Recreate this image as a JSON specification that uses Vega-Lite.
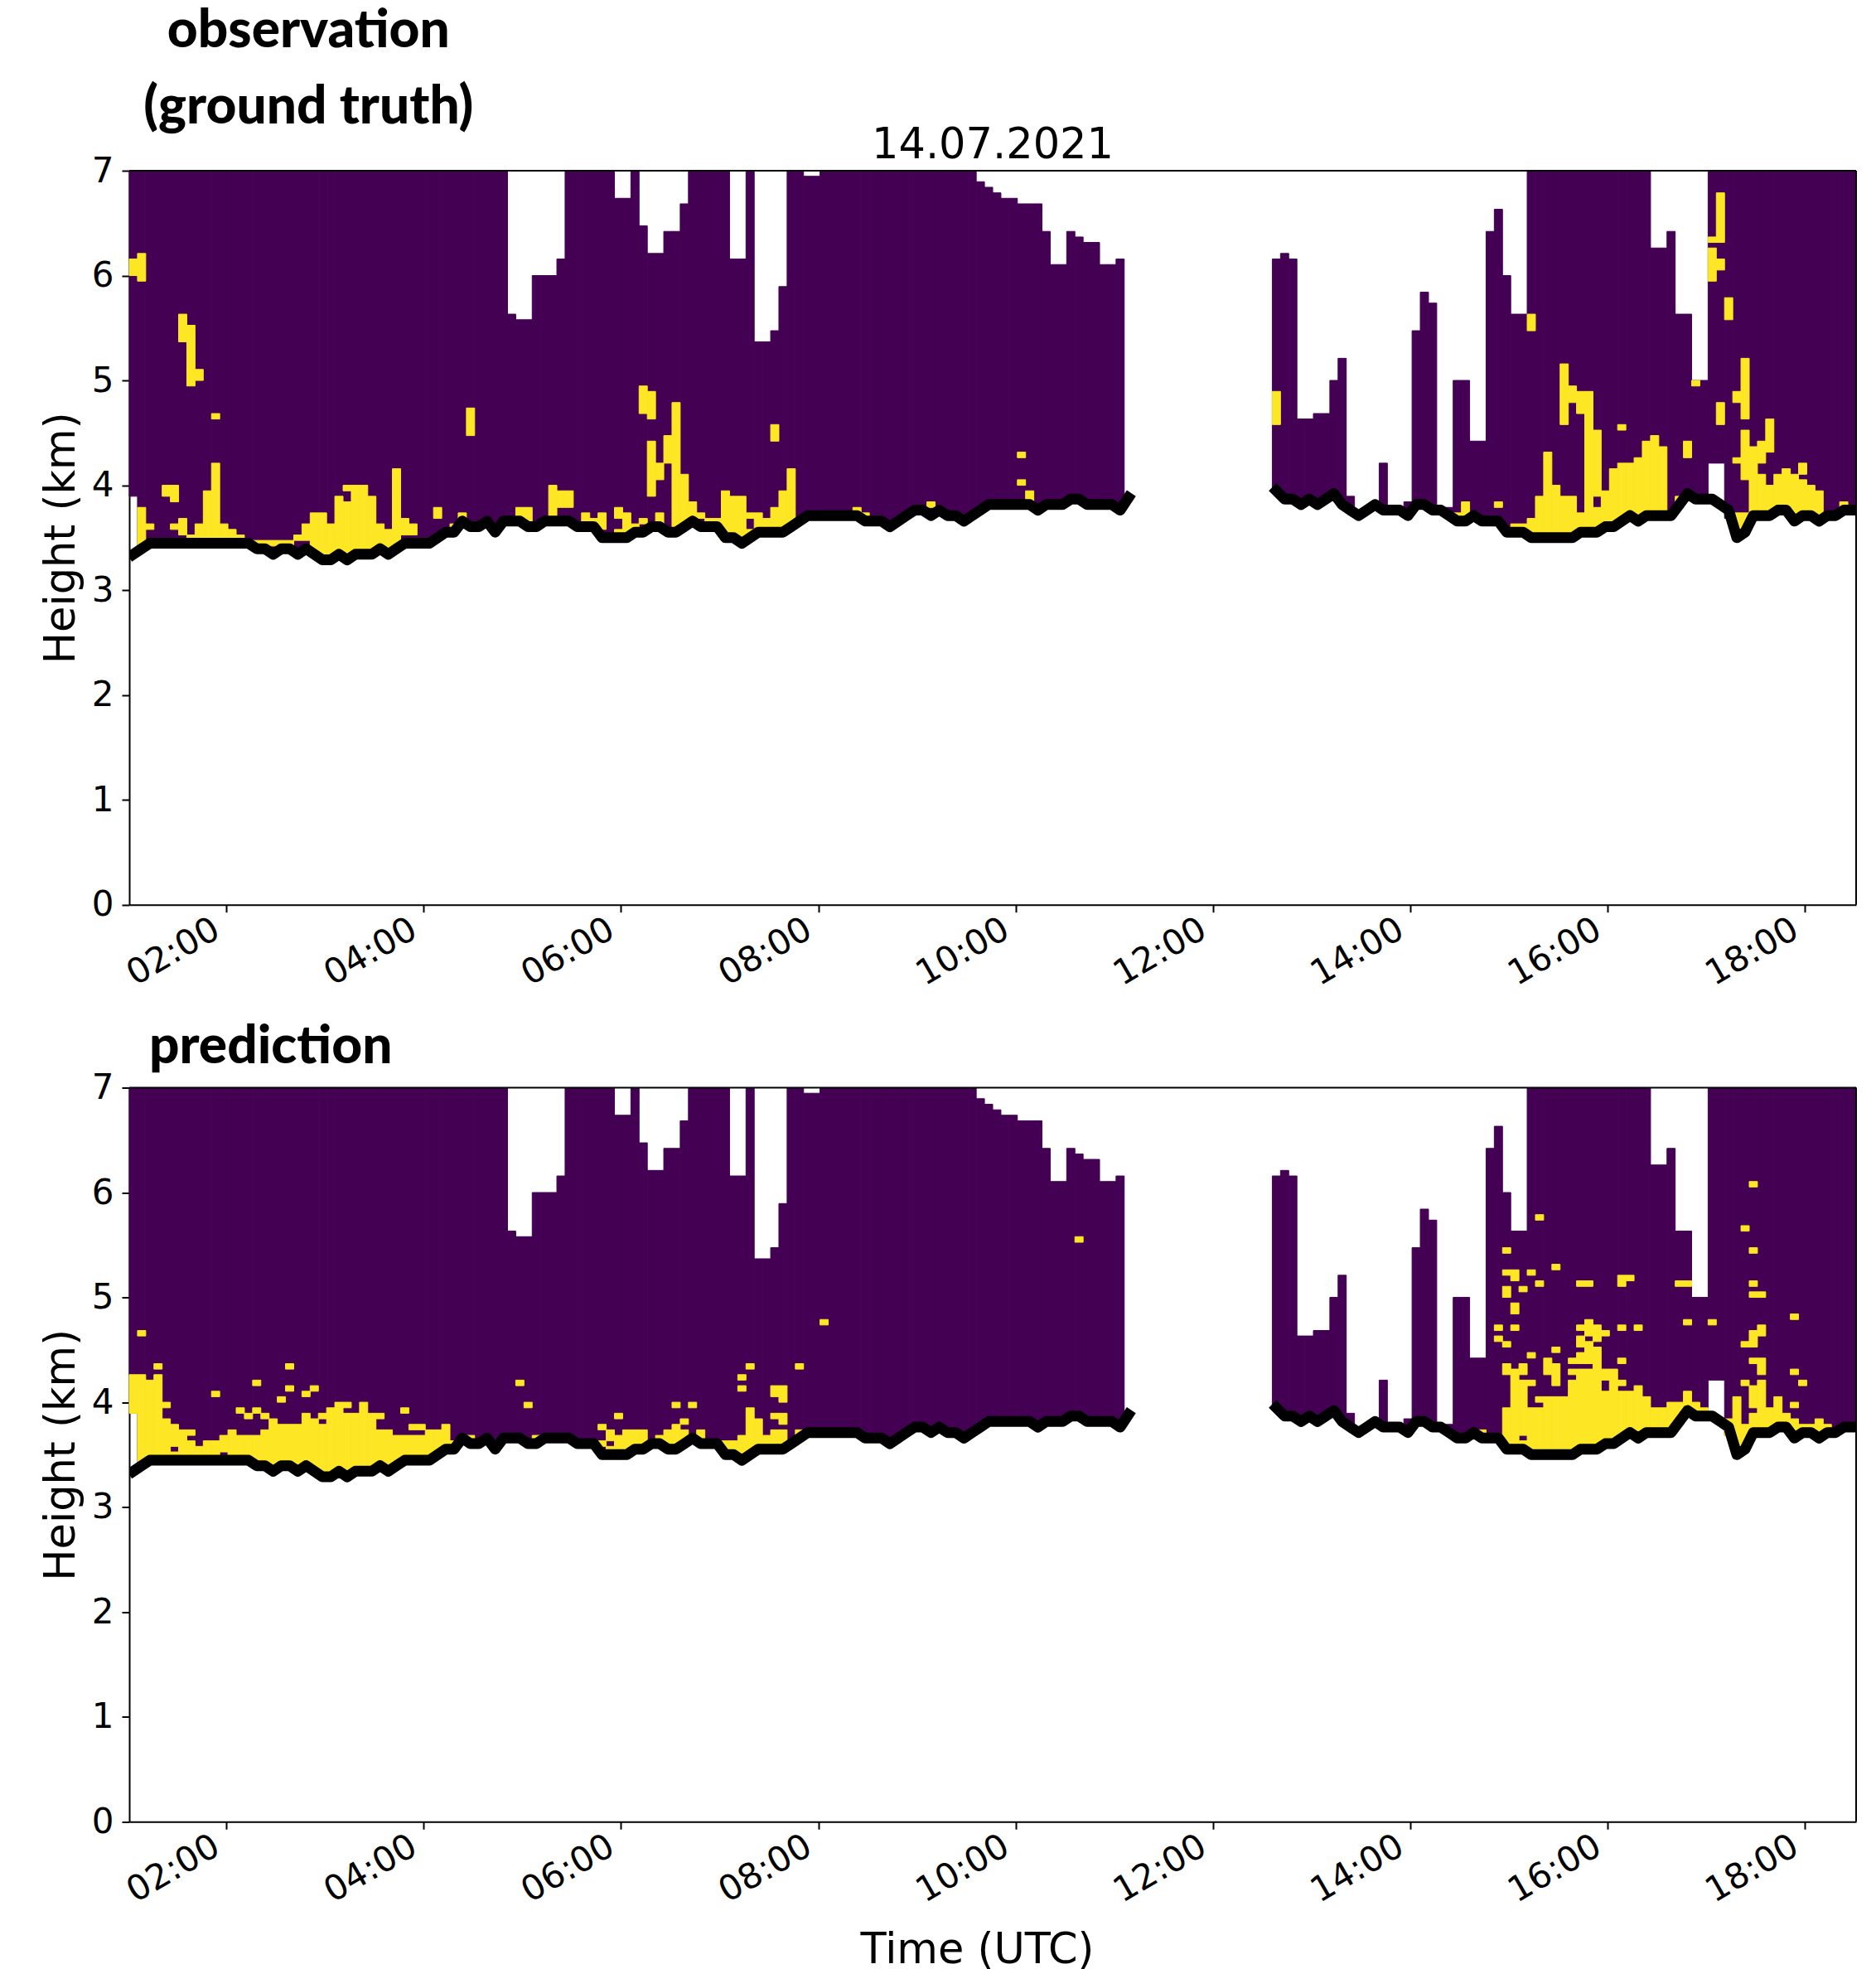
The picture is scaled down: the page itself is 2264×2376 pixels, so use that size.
{
"$schema":"https://vega.github.io/schema/vega-lite/v6.json",
"background":"white",
"padding":{"left":48,"top":5,"right":0,"bottom":0},
"config":{"view":{"stroke":null},"font":"DejaVu Sans",
"axis":{"domainColor":"black","domainWidth":2,"tickColor":"black","tickWidth":2,"tickSize":9,"labelColor":"black","titleColor":"black","labelFont":"DejaVu Sans","titleFont":"DejaVu Sans","labelFontSize":42,"titleFontSize":51,"titleFontWeight":"normal","grid":false,"zindex":1}},
"datasets":{
"cols":[
{"t":"2021-07-14T01:01Z","t2":"2021-07-14T01:06Z","h":3.895,"h2":7},{"t":"2021-07-14T01:06Z","t2":"2021-07-14T01:11Z","h":3.421,"h2":7},{"t":"2021-07-14T01:11Z","t2":"2021-07-14T01:16Z","h":3.474,"h2":7},{"t":"2021-07-14T01:16Z","t2":"2021-07-14T01:21Z","h":3.474,"h2":7},{"t":"2021-07-14T01:21Z","t2":"2021-07-14T01:26Z","h":3.474,"h2":7},{"t":"2021-07-14T01:26Z","t2":"2021-07-14T01:31Z","h":3.474,"h2":7},{"t":"2021-07-14T01:31Z","t2":"2021-07-14T01:36Z","h":3.474,"h2":7},{"t":"2021-07-14T01:36Z","t2":"2021-07-14T01:41Z","h":3.474,"h2":7},{"t":"2021-07-14T01:41Z","t2":"2021-07-14T01:46Z","h":3.474,"h2":7},{"t":"2021-07-14T01:46Z","t2":"2021-07-14T01:51Z","h":3.474,"h2":7},{"t":"2021-07-14T01:51Z","t2":"2021-07-14T01:56Z","h":3.474,"h2":7},{"t":"2021-07-14T01:56Z","t2":"2021-07-14T02:01Z","h":3.474,"h2":7},
{"t":"2021-07-14T02:01Z","t2":"2021-07-14T02:06Z","h":3.474,"h2":7},{"t":"2021-07-14T02:06Z","t2":"2021-07-14T02:11Z","h":3.474,"h2":7},{"t":"2021-07-14T02:11Z","t2":"2021-07-14T02:16Z","h":3.474,"h2":7},{"t":"2021-07-14T02:16Z","t2":"2021-07-14T02:21Z","h":3.421,"h2":7},{"t":"2021-07-14T02:21Z","t2":"2021-07-14T02:26Z","h":3.421,"h2":7},{"t":"2021-07-14T02:26Z","t2":"2021-07-14T02:31Z","h":3.368,"h2":7},{"t":"2021-07-14T02:31Z","t2":"2021-07-14T02:36Z","h":3.421,"h2":7},{"t":"2021-07-14T02:36Z","t2":"2021-07-14T02:41Z","h":3.421,"h2":7},{"t":"2021-07-14T02:41Z","t2":"2021-07-14T02:46Z","h":3.368,"h2":7},{"t":"2021-07-14T02:46Z","t2":"2021-07-14T02:51Z","h":3.421,"h2":7},{"t":"2021-07-14T02:51Z","t2":"2021-07-14T02:56Z","h":3.368,"h2":7},{"t":"2021-07-14T02:56Z","t2":"2021-07-14T03:01Z","h":3.316,"h2":7},
{"t":"2021-07-14T03:01Z","t2":"2021-07-14T03:06Z","h":3.316,"h2":7},{"t":"2021-07-14T03:06Z","t2":"2021-07-14T03:11Z","h":3.368,"h2":7},{"t":"2021-07-14T03:11Z","t2":"2021-07-14T03:16Z","h":3.316,"h2":7},{"t":"2021-07-14T03:16Z","t2":"2021-07-14T03:21Z","h":3.368,"h2":7},{"t":"2021-07-14T03:21Z","t2":"2021-07-14T03:26Z","h":3.368,"h2":7},{"t":"2021-07-14T03:26Z","t2":"2021-07-14T03:31Z","h":3.368,"h2":7},{"t":"2021-07-14T03:31Z","t2":"2021-07-14T03:36Z","h":3.421,"h2":7},{"t":"2021-07-14T03:36Z","t2":"2021-07-14T03:41Z","h":3.368,"h2":7},{"t":"2021-07-14T03:41Z","t2":"2021-07-14T03:46Z","h":3.421,"h2":7},{"t":"2021-07-14T03:46Z","t2":"2021-07-14T03:51Z","h":3.474,"h2":7},{"t":"2021-07-14T03:51Z","t2":"2021-07-14T03:56Z","h":3.474,"h2":7},{"t":"2021-07-14T03:56Z","t2":"2021-07-14T04:01Z","h":3.474,"h2":7},
{"t":"2021-07-14T04:01Z","t2":"2021-07-14T04:06Z","h":3.474,"h2":7},{"t":"2021-07-14T04:06Z","t2":"2021-07-14T04:11Z","h":3.526,"h2":7},{"t":"2021-07-14T04:11Z","t2":"2021-07-14T04:16Z","h":3.579,"h2":7},{"t":"2021-07-14T04:16Z","t2":"2021-07-14T04:21Z","h":3.579,"h2":7},{"t":"2021-07-14T04:21Z","t2":"2021-07-14T04:26Z","h":3.632,"h2":7},{"t":"2021-07-14T04:26Z","t2":"2021-07-14T04:31Z","h":3.632,"h2":7},{"t":"2021-07-14T04:31Z","t2":"2021-07-14T04:36Z","h":3.632,"h2":7},{"t":"2021-07-14T04:36Z","t2":"2021-07-14T04:41Z","h":3.632,"h2":7},{"t":"2021-07-14T04:41Z","t2":"2021-07-14T04:46Z","h":3.579,"h2":7},{"t":"2021-07-14T04:46Z","t2":"2021-07-14T04:51Z","h":3.632,"h2":7},{"t":"2021-07-14T04:51Z","t2":"2021-07-14T04:56Z","h":3.684,"h2":5.632},{"t":"2021-07-14T04:56Z","t2":"2021-07-14T05:01Z","h":3.684,"h2":5.579},
{"t":"2021-07-14T05:01Z","t2":"2021-07-14T05:06Z","h":3.632,"h2":5.579},{"t":"2021-07-14T05:06Z","t2":"2021-07-14T05:11Z","h":3.632,"h2":6},{"t":"2021-07-14T05:11Z","t2":"2021-07-14T05:16Z","h":3.684,"h2":6},{"t":"2021-07-14T05:16Z","t2":"2021-07-14T05:21Z","h":3.684,"h2":6},{"t":"2021-07-14T05:21Z","t2":"2021-07-14T05:26Z","h":3.684,"h2":6.158},{"t":"2021-07-14T05:26Z","t2":"2021-07-14T05:31Z","h":3.684,"h2":7},{"t":"2021-07-14T05:31Z","t2":"2021-07-14T05:36Z","h":3.632,"h2":7},{"t":"2021-07-14T05:36Z","t2":"2021-07-14T05:41Z","h":3.632,"h2":7},{"t":"2021-07-14T05:41Z","t2":"2021-07-14T05:46Z","h":3.579,"h2":7},{"t":"2021-07-14T05:46Z","t2":"2021-07-14T05:51Z","h":3.526,"h2":7},{"t":"2021-07-14T05:51Z","t2":"2021-07-14T05:56Z","h":3.526,"h2":7},{"t":"2021-07-14T05:56Z","t2":"2021-07-14T06:01Z","h":3.526,"h2":6.737},
{"t":"2021-07-14T06:01Z","t2":"2021-07-14T06:06Z","h":3.526,"h2":6.737},{"t":"2021-07-14T06:06Z","t2":"2021-07-14T06:11Z","h":3.579,"h2":7},{"t":"2021-07-14T06:11Z","t2":"2021-07-14T06:16Z","h":3.579,"h2":6.474},{"t":"2021-07-14T06:16Z","t2":"2021-07-14T06:21Z","h":3.632,"h2":6.211},{"t":"2021-07-14T06:21Z","t2":"2021-07-14T06:26Z","h":3.632,"h2":6.211},{"t":"2021-07-14T06:26Z","t2":"2021-07-14T06:31Z","h":3.579,"h2":6.421},{"t":"2021-07-14T06:31Z","t2":"2021-07-14T06:36Z","h":3.579,"h2":6.421},{"t":"2021-07-14T06:36Z","t2":"2021-07-14T06:41Z","h":3.632,"h2":6.684},{"t":"2021-07-14T06:41Z","t2":"2021-07-14T06:46Z","h":3.684,"h2":7},{"t":"2021-07-14T06:46Z","t2":"2021-07-14T06:51Z","h":3.632,"h2":7},{"t":"2021-07-14T06:51Z","t2":"2021-07-14T06:56Z","h":3.632,"h2":7},{"t":"2021-07-14T06:56Z","t2":"2021-07-14T07:01Z","h":3.579,"h2":7},
{"t":"2021-07-14T07:01Z","t2":"2021-07-14T07:06Z","h":3.526,"h2":7},{"t":"2021-07-14T07:06Z","t2":"2021-07-14T07:11Z","h":3.526,"h2":6.158},{"t":"2021-07-14T07:11Z","t2":"2021-07-14T07:16Z","h":3.474,"h2":6.158},{"t":"2021-07-14T07:16Z","t2":"2021-07-14T07:21Z","h":3.526,"h2":7},{"t":"2021-07-14T07:21Z","t2":"2021-07-14T07:26Z","h":3.579,"h2":5.368},{"t":"2021-07-14T07:26Z","t2":"2021-07-14T07:31Z","h":3.579,"h2":5.368},{"t":"2021-07-14T07:31Z","t2":"2021-07-14T07:36Z","h":3.579,"h2":5.474},{"t":"2021-07-14T07:36Z","t2":"2021-07-14T07:41Z","h":3.579,"h2":5.895},{"t":"2021-07-14T07:41Z","t2":"2021-07-14T07:46Z","h":3.632,"h2":7},{"t":"2021-07-14T07:46Z","t2":"2021-07-14T07:51Z","h":3.684,"h2":7},{"t":"2021-07-14T07:51Z","t2":"2021-07-14T07:56Z","h":3.737,"h2":6.947},{"t":"2021-07-14T07:56Z","t2":"2021-07-14T08:01Z","h":3.737,"h2":6.947},
{"t":"2021-07-14T08:01Z","t2":"2021-07-14T08:06Z","h":3.737,"h2":7},{"t":"2021-07-14T08:06Z","t2":"2021-07-14T08:11Z","h":3.737,"h2":7},{"t":"2021-07-14T08:11Z","t2":"2021-07-14T08:16Z","h":3.737,"h2":7},{"t":"2021-07-14T08:16Z","t2":"2021-07-14T08:21Z","h":3.737,"h2":7},{"t":"2021-07-14T08:21Z","t2":"2021-07-14T08:26Z","h":3.737,"h2":7},{"t":"2021-07-14T08:26Z","t2":"2021-07-14T08:31Z","h":3.684,"h2":7},{"t":"2021-07-14T08:31Z","t2":"2021-07-14T08:36Z","h":3.684,"h2":7},{"t":"2021-07-14T08:36Z","t2":"2021-07-14T08:41Z","h":3.684,"h2":7},{"t":"2021-07-14T08:41Z","t2":"2021-07-14T08:46Z","h":3.632,"h2":7},{"t":"2021-07-14T08:46Z","t2":"2021-07-14T08:51Z","h":3.684,"h2":7},{"t":"2021-07-14T08:51Z","t2":"2021-07-14T08:56Z","h":3.737,"h2":7},{"t":"2021-07-14T08:56Z","t2":"2021-07-14T09:01Z","h":3.789,"h2":7},
{"t":"2021-07-14T09:01Z","t2":"2021-07-14T09:06Z","h":3.789,"h2":7},{"t":"2021-07-14T09:06Z","t2":"2021-07-14T09:11Z","h":3.737,"h2":7},{"t":"2021-07-14T09:11Z","t2":"2021-07-14T09:16Z","h":3.789,"h2":7},{"t":"2021-07-14T09:16Z","t2":"2021-07-14T09:21Z","h":3.737,"h2":7},{"t":"2021-07-14T09:21Z","t2":"2021-07-14T09:26Z","h":3.737,"h2":7},{"t":"2021-07-14T09:26Z","t2":"2021-07-14T09:31Z","h":3.684,"h2":7},{"t":"2021-07-14T09:31Z","t2":"2021-07-14T09:36Z","h":3.737,"h2":7},{"t":"2021-07-14T09:36Z","t2":"2021-07-14T09:41Z","h":3.789,"h2":6.895},{"t":"2021-07-14T09:41Z","t2":"2021-07-14T09:46Z","h":3.842,"h2":6.842},{"t":"2021-07-14T09:46Z","t2":"2021-07-14T09:51Z","h":3.842,"h2":6.789},{"t":"2021-07-14T09:51Z","t2":"2021-07-14T09:56Z","h":3.842,"h2":6.737},{"t":"2021-07-14T09:56Z","t2":"2021-07-14T10:01Z","h":3.842,"h2":6.737},
{"t":"2021-07-14T10:01Z","t2":"2021-07-14T10:06Z","h":3.842,"h2":6.684},{"t":"2021-07-14T10:06Z","t2":"2021-07-14T10:11Z","h":3.842,"h2":6.684},{"t":"2021-07-14T10:11Z","t2":"2021-07-14T10:16Z","h":3.789,"h2":6.684},{"t":"2021-07-14T10:16Z","t2":"2021-07-14T10:21Z","h":3.842,"h2":6.421},{"t":"2021-07-14T10:21Z","t2":"2021-07-14T10:26Z","h":3.842,"h2":6.105},{"t":"2021-07-14T10:26Z","t2":"2021-07-14T10:31Z","h":3.842,"h2":6.105},{"t":"2021-07-14T10:31Z","t2":"2021-07-14T10:36Z","h":3.895,"h2":6.421},{"t":"2021-07-14T10:36Z","t2":"2021-07-14T10:41Z","h":3.895,"h2":6.368},{"t":"2021-07-14T10:41Z","t2":"2021-07-14T10:46Z","h":3.842,"h2":6.316},{"t":"2021-07-14T10:46Z","t2":"2021-07-14T10:51Z","h":3.842,"h2":6.316},{"t":"2021-07-14T10:51Z","t2":"2021-07-14T10:56Z","h":3.842,"h2":6.105},{"t":"2021-07-14T10:56Z","t2":"2021-07-14T11:01Z","h":3.842,"h2":6.105},
{"t":"2021-07-14T11:01Z","t2":"2021-07-14T11:06Z","h":3.789,"h2":6.158},
{"t":"2021-07-14T12:36Z","t2":"2021-07-14T12:41Z","h":3.947,"h2":6.158},{"t":"2021-07-14T12:41Z","t2":"2021-07-14T12:46Z","h":3.895,"h2":6.211},{"t":"2021-07-14T12:46Z","t2":"2021-07-14T12:51Z","h":3.895,"h2":6.158},{"t":"2021-07-14T12:51Z","t2":"2021-07-14T12:56Z","h":3.842,"h2":4.632},{"t":"2021-07-14T12:56Z","t2":"2021-07-14T13:01Z","h":3.895,"h2":4.632},
{"t":"2021-07-14T13:01Z","t2":"2021-07-14T13:06Z","h":3.842,"h2":4.684},{"t":"2021-07-14T13:06Z","t2":"2021-07-14T13:11Z","h":3.895,"h2":4.684},{"t":"2021-07-14T13:11Z","t2":"2021-07-14T13:16Z","h":3.895,"h2":5},{"t":"2021-07-14T13:16Z","t2":"2021-07-14T13:21Z","h":3.842,"h2":5.211},{"t":"2021-07-14T13:21Z","t2":"2021-07-14T13:26Z","h":3.789,"h2":3.895},{"t":"2021-07-14T13:41Z","t2":"2021-07-14T13:46Z","h":3.789,"h2":4.211},{"t":"2021-07-14T13:56Z","t2":"2021-07-14T14:01Z","h":3.737,"h2":3.842},
{"t":"2021-07-14T14:01Z","t2":"2021-07-14T14:06Z","h":3.789,"h2":5.474},{"t":"2021-07-14T14:06Z","t2":"2021-07-14T14:11Z","h":3.842,"h2":5.842},{"t":"2021-07-14T14:11Z","t2":"2021-07-14T14:16Z","h":3.789,"h2":5.737},{"t":"2021-07-14T14:21Z","t2":"2021-07-14T14:26Z","h":3.737,"h2":3.789},{"t":"2021-07-14T14:26Z","t2":"2021-07-14T14:31Z","h":3.684,"h2":5},{"t":"2021-07-14T14:31Z","t2":"2021-07-14T14:36Z","h":3.684,"h2":5},{"t":"2021-07-14T14:36Z","t2":"2021-07-14T14:41Z","h":3.737,"h2":4.421},{"t":"2021-07-14T14:41Z","t2":"2021-07-14T14:46Z","h":3.684,"h2":4.421},{"t":"2021-07-14T14:46Z","t2":"2021-07-14T14:51Z","h":3.684,"h2":6.421},{"t":"2021-07-14T14:51Z","t2":"2021-07-14T14:56Z","h":3.632,"h2":6.632},{"t":"2021-07-14T14:56Z","t2":"2021-07-14T15:01Z","h":3.579,"h2":6},
{"t":"2021-07-14T15:01Z","t2":"2021-07-14T15:06Z","h":3.579,"h2":5.632},{"t":"2021-07-14T15:06Z","t2":"2021-07-14T15:11Z","h":3.579,"h2":5.632},{"t":"2021-07-14T15:11Z","t2":"2021-07-14T15:16Z","h":3.526,"h2":7},{"t":"2021-07-14T15:16Z","t2":"2021-07-14T15:21Z","h":3.526,"h2":7},{"t":"2021-07-14T15:21Z","t2":"2021-07-14T15:26Z","h":3.526,"h2":7},{"t":"2021-07-14T15:26Z","t2":"2021-07-14T15:31Z","h":3.526,"h2":7},{"t":"2021-07-14T15:31Z","t2":"2021-07-14T15:36Z","h":3.526,"h2":7},{"t":"2021-07-14T15:36Z","t2":"2021-07-14T15:41Z","h":3.526,"h2":7},{"t":"2021-07-14T15:41Z","t2":"2021-07-14T15:46Z","h":3.579,"h2":7},{"t":"2021-07-14T15:46Z","t2":"2021-07-14T15:51Z","h":3.579,"h2":7},{"t":"2021-07-14T15:51Z","t2":"2021-07-14T15:56Z","h":3.579,"h2":7},{"t":"2021-07-14T15:56Z","t2":"2021-07-14T16:01Z","h":3.632,"h2":7},
{"t":"2021-07-14T16:01Z","t2":"2021-07-14T16:06Z","h":3.632,"h2":7},{"t":"2021-07-14T16:06Z","t2":"2021-07-14T16:11Z","h":3.684,"h2":7},{"t":"2021-07-14T16:11Z","t2":"2021-07-14T16:16Z","h":3.737,"h2":7},{"t":"2021-07-14T16:16Z","t2":"2021-07-14T16:21Z","h":3.684,"h2":7},{"t":"2021-07-14T16:21Z","t2":"2021-07-14T16:26Z","h":3.737,"h2":7},{"t":"2021-07-14T16:26Z","t2":"2021-07-14T16:31Z","h":3.737,"h2":6.263},{"t":"2021-07-14T16:31Z","t2":"2021-07-14T16:36Z","h":3.737,"h2":6.263},{"t":"2021-07-14T16:36Z","t2":"2021-07-14T16:41Z","h":3.737,"h2":6.421},{"t":"2021-07-14T16:41Z","t2":"2021-07-14T16:46Z","h":3.789,"h2":5.632},{"t":"2021-07-14T16:46Z","t2":"2021-07-14T16:51Z","h":3.895,"h2":5.632},{"t":"2021-07-14T16:51Z","t2":"2021-07-14T16:56Z","h":3.895,"h2":5},{"t":"2021-07-14T16:56Z","t2":"2021-07-14T17:01Z","h":3.895,"h2":5},
{"t":"2021-07-14T17:01Z","t2":"2021-07-14T17:06Z","h":4.211,"h2":7},{"t":"2021-07-14T17:06Z","t2":"2021-07-14T17:11Z","h":4.211,"h2":7},{"t":"2021-07-14T17:11Z","t2":"2021-07-14T17:16Z","h":3.684,"h2":7},{"t":"2021-07-14T17:16Z","t2":"2021-07-14T17:21Z","h":3.526,"h2":7},{"t":"2021-07-14T17:21Z","t2":"2021-07-14T17:26Z","h":3.579,"h2":7},{"t":"2021-07-14T17:26Z","t2":"2021-07-14T17:31Z","h":3.684,"h2":7},{"t":"2021-07-14T17:31Z","t2":"2021-07-14T17:36Z","h":3.737,"h2":7},{"t":"2021-07-14T17:36Z","t2":"2021-07-14T17:41Z","h":3.737,"h2":7},{"t":"2021-07-14T17:41Z","t2":"2021-07-14T17:46Z","h":3.789,"h2":7},{"t":"2021-07-14T17:46Z","t2":"2021-07-14T17:51Z","h":3.789,"h2":7},{"t":"2021-07-14T17:51Z","t2":"2021-07-14T17:56Z","h":3.684,"h2":7},{"t":"2021-07-14T17:56Z","t2":"2021-07-14T18:01Z","h":3.737,"h2":7},
{"t":"2021-07-14T18:01Z","t2":"2021-07-14T18:06Z","h":3.737,"h2":7},{"t":"2021-07-14T18:06Z","t2":"2021-07-14T18:11Z","h":3.684,"h2":7},{"t":"2021-07-14T18:11Z","t2":"2021-07-14T18:16Z","h":3.737,"h2":7},{"t":"2021-07-14T18:16Z","t2":"2021-07-14T18:21Z","h":3.737,"h2":7},{"t":"2021-07-14T18:21Z","t2":"2021-07-14T18:26Z","h":3.789,"h2":7},{"t":"2021-07-14T18:26Z","t2":"2021-07-14T18:31Z","h":3.789,"h2":7}
],
"obs":[
{"t":"2021-07-14T01:01Z","t2":"2021-07-14T01:06Z","h":6,"h2":6.158},{"t":"2021-07-14T01:06Z","t2":"2021-07-14T01:11Z","h":5.947,"h2":6.211},{"t":"2021-07-14T01:06Z","t2":"2021-07-14T01:11Z","h":3.421,"h2":3.789},{"t":"2021-07-14T01:11Z","t2":"2021-07-14T01:16Z","h":3.579,"h2":3.632},{"t":"2021-07-14T01:21Z","t2":"2021-07-14T01:26Z","h":3.895,"h2":4},{"t":"2021-07-14T01:26Z","t2":"2021-07-14T01:31Z","h":3.842,"h2":4},{"t":"2021-07-14T01:26Z","t2":"2021-07-14T01:31Z","h":3.579,"h2":3.632},{"t":"2021-07-14T01:31Z","t2":"2021-07-14T01:36Z","h":5.368,"h2":5.632},{"t":"2021-07-14T01:31Z","t2":"2021-07-14T01:36Z","h":3.526,"h2":3.684},{"t":"2021-07-14T01:36Z","t2":"2021-07-14T01:41Z","h":4.947,"h2":5.526},{"t":"2021-07-14T01:36Z","t2":"2021-07-14T01:41Z","h":3.474,"h2":3.526},{"t":"2021-07-14T01:41Z","t2":"2021-07-14T01:46Z","h":5,"h2":5.105},{"t":"2021-07-14T01:41Z","t2":"2021-07-14T01:46Z","h":3.474,"h2":3.632},{"t":"2021-07-14T01:46Z","t2":"2021-07-14T01:51Z","h":3.474,"h2":3.947},{"t":"2021-07-14T01:51Z","t2":"2021-07-14T01:56Z","h":4.632,"h2":4.684},{"t":"2021-07-14T01:51Z","t2":"2021-07-14T01:56Z","h":3.474,"h2":4.211},{"t":"2021-07-14T01:56Z","t2":"2021-07-14T02:01Z","h":3.474,"h2":3.632},{"t":"2021-07-14T02:01Z","t2":"2021-07-14T02:06Z","h":3.474,"h2":3.579},{"t":"2021-07-14T02:06Z","t2":"2021-07-14T02:11Z","h":3.474,"h2":3.526},
{"t":"2021-07-14T02:16Z","t2":"2021-07-14T02:21Z","h":3.421,"h2":3.474},{"t":"2021-07-14T02:21Z","t2":"2021-07-14T02:26Z","h":3.421,"h2":3.474},{"t":"2021-07-14T02:26Z","t2":"2021-07-14T02:31Z","h":3.421,"h2":3.474},{"t":"2021-07-14T02:31Z","t2":"2021-07-14T02:36Z","h":3.421,"h2":3.474},{"t":"2021-07-14T02:36Z","t2":"2021-07-14T02:41Z","h":3.421,"h2":3.474},{"t":"2021-07-14T02:41Z","t2":"2021-07-14T02:46Z","h":3.474,"h2":3.526},{"t":"2021-07-14T02:46Z","t2":"2021-07-14T02:51Z","h":3.474,"h2":3.632},{"t":"2021-07-14T02:51Z","t2":"2021-07-14T02:56Z","h":3.368,"h2":3.737},{"t":"2021-07-14T02:56Z","t2":"2021-07-14T03:01Z","h":3.316,"h2":3.737},{"t":"2021-07-14T03:01Z","t2":"2021-07-14T03:06Z","h":3.316,"h2":3.632},{"t":"2021-07-14T03:06Z","t2":"2021-07-14T03:11Z","h":3.368,"h2":3.895},{"t":"2021-07-14T03:11Z","t2":"2021-07-14T03:16Z","h":3.316,"h2":3.842},{"t":"2021-07-14T03:11Z","t2":"2021-07-14T03:16Z","h":3.947,"h2":4},{"t":"2021-07-14T03:16Z","t2":"2021-07-14T03:21Z","h":3.368,"h2":4},{"t":"2021-07-14T03:21Z","t2":"2021-07-14T03:26Z","h":3.368,"h2":4},{"t":"2021-07-14T03:26Z","t2":"2021-07-14T03:31Z","h":3.368,"h2":3.895},{"t":"2021-07-14T03:31Z","t2":"2021-07-14T03:36Z","h":3.421,"h2":3.632},{"t":"2021-07-14T03:36Z","t2":"2021-07-14T03:41Z","h":3.368,"h2":3.579},{"t":"2021-07-14T03:41Z","t2":"2021-07-14T03:46Z","h":3.421,"h2":4.158},{"t":"2021-07-14T03:46Z","t2":"2021-07-14T03:51Z","h":3.526,"h2":3.684},{"t":"2021-07-14T03:51Z","t2":"2021-07-14T03:56Z","h":3.526,"h2":3.632},
{"t":"2021-07-14T04:06Z","t2":"2021-07-14T04:11Z","h":3.684,"h2":3.789},{"t":"2021-07-14T04:16Z","t2":"2021-07-14T04:21Z","h":3.579,"h2":3.632},{"t":"2021-07-14T04:21Z","t2":"2021-07-14T04:26Z","h":3.632,"h2":3.737},{"t":"2021-07-14T04:26Z","t2":"2021-07-14T04:31Z","h":4.474,"h2":4.737},{"t":"2021-07-14T04:56Z","t2":"2021-07-14T05:01Z","h":3.632,"h2":3.789},{"t":"2021-07-14T05:01Z","t2":"2021-07-14T05:06Z","h":3.632,"h2":3.789},{"t":"2021-07-14T05:16Z","t2":"2021-07-14T05:21Z","h":3.684,"h2":4},{"t":"2021-07-14T05:21Z","t2":"2021-07-14T05:26Z","h":3.789,"h2":3.947},{"t":"2021-07-14T05:26Z","t2":"2021-07-14T05:31Z","h":3.789,"h2":3.947},{"t":"2021-07-14T05:36Z","t2":"2021-07-14T05:41Z","h":3.632,"h2":3.737},{"t":"2021-07-14T05:41Z","t2":"2021-07-14T05:46Z","h":3.632,"h2":3.684},{"t":"2021-07-14T05:46Z","t2":"2021-07-14T05:51Z","h":3.579,"h2":3.737},{"t":"2021-07-14T05:56Z","t2":"2021-07-14T06:01Z","h":3.684,"h2":3.789},{"t":"2021-07-14T05:56Z","t2":"2021-07-14T06:01Z","h":3.526,"h2":3.579},
{"t":"2021-07-14T06:01Z","t2":"2021-07-14T06:06Z","h":3.526,"h2":3.737},{"t":"2021-07-14T06:06Z","t2":"2021-07-14T06:11Z","h":3.579,"h2":3.632},{"t":"2021-07-14T06:11Z","t2":"2021-07-14T06:16Z","h":3.632,"h2":3.684},{"t":"2021-07-14T06:11Z","t2":"2021-07-14T06:16Z","h":4.684,"h2":4.947},{"t":"2021-07-14T06:16Z","t2":"2021-07-14T06:21Z","h":3.895,"h2":4.421},{"t":"2021-07-14T06:16Z","t2":"2021-07-14T06:21Z","h":4.632,"h2":4.895},{"t":"2021-07-14T06:21Z","t2":"2021-07-14T06:26Z","h":3.632,"h2":3.737},{"t":"2021-07-14T06:21Z","t2":"2021-07-14T06:26Z","h":4.053,"h2":4.211},{"t":"2021-07-14T06:26Z","t2":"2021-07-14T06:31Z","h":4.211,"h2":4.474},{"t":"2021-07-14T06:31Z","t2":"2021-07-14T06:36Z","h":3.579,"h2":4.789},{"t":"2021-07-14T06:36Z","t2":"2021-07-14T06:41Z","h":3.632,"h2":4.105},{"t":"2021-07-14T06:41Z","t2":"2021-07-14T06:46Z","h":3.684,"h2":3.842},{"t":"2021-07-14T06:46Z","t2":"2021-07-14T06:51Z","h":3.684,"h2":3.737},{"t":"2021-07-14T06:51Z","t2":"2021-07-14T06:56Z","h":3.632,"h2":3.684},{"t":"2021-07-14T06:56Z","t2":"2021-07-14T07:01Z","h":3.632,"h2":3.684},
{"t":"2021-07-14T07:01Z","t2":"2021-07-14T07:06Z","h":3.526,"h2":3.947},{"t":"2021-07-14T07:06Z","t2":"2021-07-14T07:11Z","h":3.526,"h2":3.895},{"t":"2021-07-14T07:11Z","t2":"2021-07-14T07:16Z","h":3.474,"h2":3.895},{"t":"2021-07-14T07:16Z","t2":"2021-07-14T07:21Z","h":3.684,"h2":3.737},{"t":"2021-07-14T07:16Z","t2":"2021-07-14T07:21Z","h":3.526,"h2":3.579},{"t":"2021-07-14T07:21Z","t2":"2021-07-14T07:26Z","h":3.579,"h2":3.737},{"t":"2021-07-14T07:26Z","t2":"2021-07-14T07:31Z","h":3.579,"h2":3.684},{"t":"2021-07-14T07:31Z","t2":"2021-07-14T07:36Z","h":3.579,"h2":3.789},{"t":"2021-07-14T07:31Z","t2":"2021-07-14T07:36Z","h":4.421,"h2":4.579},{"t":"2021-07-14T07:36Z","t2":"2021-07-14T07:41Z","h":3.579,"h2":3.947},{"t":"2021-07-14T07:41Z","t2":"2021-07-14T07:46Z","h":3.632,"h2":4.158},
{"t":"2021-07-14T08:21Z","t2":"2021-07-14T08:26Z","h":3.737,"h2":3.789},{"t":"2021-07-14T08:26Z","t2":"2021-07-14T08:31Z","h":3.684,"h2":3.737},{"t":"2021-07-14T09:06Z","t2":"2021-07-14T09:11Z","h":3.789,"h2":3.842},{"t":"2021-07-14T10:01Z","t2":"2021-07-14T10:06Z","h":4.263,"h2":4.316},{"t":"2021-07-14T10:01Z","t2":"2021-07-14T10:06Z","h":4,"h2":4.053},{"t":"2021-07-14T10:06Z","t2":"2021-07-14T10:11Z","h":3.842,"h2":3.947},
{"t":"2021-07-14T12:36Z","t2":"2021-07-14T12:41Z","h":4.579,"h2":4.895},{"t":"2021-07-14T14:26Z","t2":"2021-07-14T14:31Z","h":3.684,"h2":3.737},{"t":"2021-07-14T14:31Z","t2":"2021-07-14T14:36Z","h":3.684,"h2":3.842},{"t":"2021-07-14T14:51Z","t2":"2021-07-14T14:56Z","h":3.789,"h2":3.842},
{"t":"2021-07-14T15:01Z","t2":"2021-07-14T15:06Z","h":3.579,"h2":3.632},{"t":"2021-07-14T15:06Z","t2":"2021-07-14T15:11Z","h":3.579,"h2":3.632},{"t":"2021-07-14T15:11Z","t2":"2021-07-14T15:16Z","h":3.526,"h2":3.684},{"t":"2021-07-14T15:11Z","t2":"2021-07-14T15:16Z","h":5.474,"h2":5.632},{"t":"2021-07-14T15:16Z","t2":"2021-07-14T15:21Z","h":3.526,"h2":3.895},{"t":"2021-07-14T15:21Z","t2":"2021-07-14T15:26Z","h":3.526,"h2":4.316},{"t":"2021-07-14T15:26Z","t2":"2021-07-14T15:31Z","h":3.526,"h2":4},{"t":"2021-07-14T15:31Z","t2":"2021-07-14T15:36Z","h":3.526,"h2":3.895},{"t":"2021-07-14T15:31Z","t2":"2021-07-14T15:36Z","h":4.579,"h2":5.158},{"t":"2021-07-14T15:36Z","t2":"2021-07-14T15:41Z","h":3.526,"h2":3.895},{"t":"2021-07-14T15:36Z","t2":"2021-07-14T15:41Z","h":4.789,"h2":4.947},{"t":"2021-07-14T15:41Z","t2":"2021-07-14T15:46Z","h":3.579,"h2":3.737},{"t":"2021-07-14T15:41Z","t2":"2021-07-14T15:46Z","h":4.684,"h2":4.895},{"t":"2021-07-14T15:46Z","t2":"2021-07-14T15:51Z","h":3.579,"h2":4.895},{"t":"2021-07-14T15:51Z","t2":"2021-07-14T15:56Z","h":3.579,"h2":3.789},{"t":"2021-07-14T15:51Z","t2":"2021-07-14T15:56Z","h":3.895,"h2":4.526},{"t":"2021-07-14T15:56Z","t2":"2021-07-14T16:01Z","h":3.632,"h2":3.947},
{"t":"2021-07-14T16:01Z","t2":"2021-07-14T16:06Z","h":3.632,"h2":4.158},{"t":"2021-07-14T16:06Z","t2":"2021-07-14T16:11Z","h":3.684,"h2":4.211},{"t":"2021-07-14T16:06Z","t2":"2021-07-14T16:11Z","h":4.526,"h2":4.579},{"t":"2021-07-14T16:11Z","t2":"2021-07-14T16:16Z","h":3.737,"h2":4.211},{"t":"2021-07-14T16:16Z","t2":"2021-07-14T16:21Z","h":3.684,"h2":4.263},{"t":"2021-07-14T16:21Z","t2":"2021-07-14T16:26Z","h":3.737,"h2":4.421},{"t":"2021-07-14T16:26Z","t2":"2021-07-14T16:31Z","h":3.737,"h2":4.474},{"t":"2021-07-14T16:31Z","t2":"2021-07-14T16:36Z","h":3.737,"h2":4.368},{"t":"2021-07-14T16:41Z","t2":"2021-07-14T16:46Z","h":3.842,"h2":3.895},{"t":"2021-07-14T16:46Z","t2":"2021-07-14T16:51Z","h":4.263,"h2":4.421},{"t":"2021-07-14T16:51Z","t2":"2021-07-14T16:56Z","h":4.947,"h2":5},
{"t":"2021-07-14T17:01Z","t2":"2021-07-14T17:06Z","h":6.316,"h2":6.368},{"t":"2021-07-14T17:01Z","t2":"2021-07-14T17:06Z","h":5.947,"h2":6.263},{"t":"2021-07-14T17:06Z","t2":"2021-07-14T17:11Z","h":6.316,"h2":6.789},{"t":"2021-07-14T17:06Z","t2":"2021-07-14T17:11Z","h":6.053,"h2":6.158},{"t":"2021-07-14T17:06Z","t2":"2021-07-14T17:11Z","h":4.579,"h2":4.789},{"t":"2021-07-14T17:11Z","t2":"2021-07-14T17:16Z","h":5.579,"h2":5.789},{"t":"2021-07-14T17:16Z","t2":"2021-07-14T17:21Z","h":3.526,"h2":3.737},{"t":"2021-07-14T17:16Z","t2":"2021-07-14T17:21Z","h":4.789,"h2":4.895},{"t":"2021-07-14T17:16Z","t2":"2021-07-14T17:21Z","h":4.211,"h2":4.263},{"t":"2021-07-14T17:21Z","t2":"2021-07-14T17:26Z","h":3.579,"h2":3.737},{"t":"2021-07-14T17:21Z","t2":"2021-07-14T17:26Z","h":4.053,"h2":4.526},{"t":"2021-07-14T17:21Z","t2":"2021-07-14T17:26Z","h":4.632,"h2":5.211},{"t":"2021-07-14T17:26Z","t2":"2021-07-14T17:31Z","h":3.684,"h2":4.368},{"t":"2021-07-14T17:31Z","t2":"2021-07-14T17:36Z","h":3.737,"h2":4.105},{"t":"2021-07-14T17:31Z","t2":"2021-07-14T17:36Z","h":4.211,"h2":4.421},{"t":"2021-07-14T17:36Z","t2":"2021-07-14T17:41Z","h":3.737,"h2":4},{"t":"2021-07-14T17:36Z","t2":"2021-07-14T17:41Z","h":4.316,"h2":4.632},{"t":"2021-07-14T17:41Z","t2":"2021-07-14T17:46Z","h":3.789,"h2":4.105},{"t":"2021-07-14T17:46Z","t2":"2021-07-14T17:51Z","h":3.789,"h2":4.158},{"t":"2021-07-14T17:51Z","t2":"2021-07-14T17:56Z","h":3.684,"h2":4.105},{"t":"2021-07-14T17:56Z","t2":"2021-07-14T18:01Z","h":3.737,"h2":4.053},{"t":"2021-07-14T17:56Z","t2":"2021-07-14T18:01Z","h":4.105,"h2":4.211},
{"t":"2021-07-14T18:01Z","t2":"2021-07-14T18:06Z","h":3.737,"h2":4},{"t":"2021-07-14T18:06Z","t2":"2021-07-14T18:11Z","h":3.684,"h2":3.947},{"t":"2021-07-14T18:21Z","t2":"2021-07-14T18:26Z","h":3.789,"h2":3.842}
],
"pred":[
{"t":"2021-07-14T01:01Z","t2":"2021-07-14T01:06Z","h":3.895,"h2":4.263},{"t":"2021-07-14T01:06Z","t2":"2021-07-14T01:11Z","h":4.632,"h2":4.684},{"t":"2021-07-14T01:06Z","t2":"2021-07-14T01:11Z","h":3.421,"h2":4.263},{"t":"2021-07-14T01:11Z","t2":"2021-07-14T01:16Z","h":3.474,"h2":4.211},{"t":"2021-07-14T01:16Z","t2":"2021-07-14T01:21Z","h":4.316,"h2":4.368},{"t":"2021-07-14T01:16Z","t2":"2021-07-14T01:21Z","h":3.474,"h2":4.263},{"t":"2021-07-14T01:21Z","t2":"2021-07-14T01:26Z","h":3.947,"h2":4},{"t":"2021-07-14T01:21Z","t2":"2021-07-14T01:26Z","h":3.474,"h2":3.842},{"t":"2021-07-14T01:26Z","t2":"2021-07-14T01:31Z","h":3.474,"h2":3.526},{"t":"2021-07-14T01:26Z","t2":"2021-07-14T01:31Z","h":3.579,"h2":3.789},{"t":"2021-07-14T01:31Z","t2":"2021-07-14T01:36Z","h":3.474,"h2":3.737},{"t":"2021-07-14T01:36Z","t2":"2021-07-14T01:41Z","h":3.684,"h2":3.737},{"t":"2021-07-14T01:36Z","t2":"2021-07-14T01:41Z","h":3.474,"h2":3.632},{"t":"2021-07-14T01:41Z","t2":"2021-07-14T01:46Z","h":3.474,"h2":3.579},{"t":"2021-07-14T01:46Z","t2":"2021-07-14T01:51Z","h":3.474,"h2":3.632},{"t":"2021-07-14T01:51Z","t2":"2021-07-14T01:56Z","h":4.053,"h2":4.105},{"t":"2021-07-14T01:51Z","t2":"2021-07-14T01:56Z","h":3.474,"h2":3.632},{"t":"2021-07-14T01:56Z","t2":"2021-07-14T02:01Z","h":3.526,"h2":3.684},
{"t":"2021-07-14T02:01Z","t2":"2021-07-14T02:06Z","h":3.474,"h2":3.737},{"t":"2021-07-14T02:06Z","t2":"2021-07-14T02:11Z","h":3.895,"h2":3.947},{"t":"2021-07-14T02:06Z","t2":"2021-07-14T02:11Z","h":3.474,"h2":3.684},{"t":"2021-07-14T02:11Z","t2":"2021-07-14T02:16Z","h":3.842,"h2":3.895},{"t":"2021-07-14T02:11Z","t2":"2021-07-14T02:16Z","h":3.474,"h2":3.684},{"t":"2021-07-14T02:16Z","t2":"2021-07-14T02:21Z","h":4.158,"h2":4.211},{"t":"2021-07-14T02:16Z","t2":"2021-07-14T02:21Z","h":3.895,"h2":3.947},{"t":"2021-07-14T02:16Z","t2":"2021-07-14T02:21Z","h":3.421,"h2":3.684},{"t":"2021-07-14T02:21Z","t2":"2021-07-14T02:26Z","h":3.842,"h2":3.895},{"t":"2021-07-14T02:21Z","t2":"2021-07-14T02:26Z","h":3.421,"h2":3.737},{"t":"2021-07-14T02:26Z","t2":"2021-07-14T02:31Z","h":3.368,"h2":3.842},{"t":"2021-07-14T02:31Z","t2":"2021-07-14T02:36Z","h":4,"h2":4.053},{"t":"2021-07-14T02:31Z","t2":"2021-07-14T02:36Z","h":3.421,"h2":3.789},{"t":"2021-07-14T02:36Z","t2":"2021-07-14T02:41Z","h":4.316,"h2":4.368},{"t":"2021-07-14T02:36Z","t2":"2021-07-14T02:41Z","h":4.105,"h2":4.158},{"t":"2021-07-14T02:36Z","t2":"2021-07-14T02:41Z","h":3.421,"h2":3.789},{"t":"2021-07-14T02:41Z","t2":"2021-07-14T02:46Z","h":3.368,"h2":3.789},{"t":"2021-07-14T02:46Z","t2":"2021-07-14T02:51Z","h":4.053,"h2":4.105},{"t":"2021-07-14T02:46Z","t2":"2021-07-14T02:51Z","h":3.421,"h2":3.895},{"t":"2021-07-14T02:51Z","t2":"2021-07-14T02:56Z","h":4.105,"h2":4.158},{"t":"2021-07-14T02:51Z","t2":"2021-07-14T02:56Z","h":3.368,"h2":3.842},{"t":"2021-07-14T02:56Z","t2":"2021-07-14T03:01Z","h":3.842,"h2":3.895},{"t":"2021-07-14T02:56Z","t2":"2021-07-14T03:01Z","h":3.316,"h2":3.789},
{"t":"2021-07-14T03:01Z","t2":"2021-07-14T03:06Z","h":3.316,"h2":3.947},{"t":"2021-07-14T03:06Z","t2":"2021-07-14T03:11Z","h":3.368,"h2":4},{"t":"2021-07-14T03:11Z","t2":"2021-07-14T03:16Z","h":3.947,"h2":4},{"t":"2021-07-14T03:11Z","t2":"2021-07-14T03:16Z","h":3.316,"h2":3.895},{"t":"2021-07-14T03:16Z","t2":"2021-07-14T03:21Z","h":3.368,"h2":3.895},{"t":"2021-07-14T03:21Z","t2":"2021-07-14T03:26Z","h":3.368,"h2":4},{"t":"2021-07-14T03:26Z","t2":"2021-07-14T03:31Z","h":3.368,"h2":3.895},{"t":"2021-07-14T03:31Z","t2":"2021-07-14T03:36Z","h":3.842,"h2":3.895},{"t":"2021-07-14T03:31Z","t2":"2021-07-14T03:36Z","h":3.421,"h2":3.737},{"t":"2021-07-14T03:36Z","t2":"2021-07-14T03:41Z","h":3.368,"h2":3.737},{"t":"2021-07-14T03:41Z","t2":"2021-07-14T03:46Z","h":3.421,"h2":3.684},{"t":"2021-07-14T03:46Z","t2":"2021-07-14T03:51Z","h":3.895,"h2":3.947},{"t":"2021-07-14T03:46Z","t2":"2021-07-14T03:51Z","h":3.474,"h2":3.684},{"t":"2021-07-14T03:51Z","t2":"2021-07-14T03:56Z","h":3.737,"h2":3.789},{"t":"2021-07-14T03:51Z","t2":"2021-07-14T03:56Z","h":3.474,"h2":3.684},{"t":"2021-07-14T03:56Z","t2":"2021-07-14T04:01Z","h":3.737,"h2":3.789},{"t":"2021-07-14T03:56Z","t2":"2021-07-14T04:01Z","h":3.474,"h2":3.684},
{"t":"2021-07-14T04:01Z","t2":"2021-07-14T04:06Z","h":3.474,"h2":3.737},{"t":"2021-07-14T04:06Z","t2":"2021-07-14T04:11Z","h":3.526,"h2":3.737},{"t":"2021-07-14T04:11Z","t2":"2021-07-14T04:16Z","h":3.579,"h2":3.789},{"t":"2021-07-14T04:16Z","t2":"2021-07-14T04:21Z","h":3.579,"h2":3.632},{"t":"2021-07-14T04:26Z","t2":"2021-07-14T04:31Z","h":3.632,"h2":3.684},{"t":"2021-07-14T04:56Z","t2":"2021-07-14T05:01Z","h":4.158,"h2":4.211},
{"t":"2021-07-14T05:01Z","t2":"2021-07-14T05:06Z","h":3.947,"h2":4},{"t":"2021-07-14T05:06Z","t2":"2021-07-14T05:11Z","h":3.632,"h2":3.684},{"t":"2021-07-14T05:46Z","t2":"2021-07-14T05:51Z","h":3.737,"h2":3.789},{"t":"2021-07-14T05:46Z","t2":"2021-07-14T05:51Z","h":3.579,"h2":3.632},{"t":"2021-07-14T05:51Z","t2":"2021-07-14T05:56Z","h":3.526,"h2":3.579},{"t":"2021-07-14T05:51Z","t2":"2021-07-14T05:56Z","h":3.632,"h2":3.737},{"t":"2021-07-14T05:56Z","t2":"2021-07-14T06:01Z","h":3.842,"h2":3.895},{"t":"2021-07-14T05:56Z","t2":"2021-07-14T06:01Z","h":3.526,"h2":3.684},
{"t":"2021-07-14T06:01Z","t2":"2021-07-14T06:06Z","h":3.526,"h2":3.737},{"t":"2021-07-14T06:06Z","t2":"2021-07-14T06:11Z","h":3.579,"h2":3.737},{"t":"2021-07-14T06:11Z","t2":"2021-07-14T06:16Z","h":3.579,"h2":3.737},{"t":"2021-07-14T06:21Z","t2":"2021-07-14T06:26Z","h":3.632,"h2":3.684},{"t":"2021-07-14T06:26Z","t2":"2021-07-14T06:31Z","h":3.579,"h2":3.737},{"t":"2021-07-14T06:31Z","t2":"2021-07-14T06:36Z","h":3.947,"h2":4},{"t":"2021-07-14T06:31Z","t2":"2021-07-14T06:36Z","h":3.579,"h2":3.789},{"t":"2021-07-14T06:36Z","t2":"2021-07-14T06:41Z","h":3.789,"h2":3.842},{"t":"2021-07-14T06:36Z","t2":"2021-07-14T06:41Z","h":3.632,"h2":3.737},{"t":"2021-07-14T06:41Z","t2":"2021-07-14T06:46Z","h":3.947,"h2":4},{"t":"2021-07-14T06:46Z","t2":"2021-07-14T06:51Z","h":3.632,"h2":3.737},
{"t":"2021-07-14T07:01Z","t2":"2021-07-14T07:06Z","h":3.526,"h2":3.632},{"t":"2021-07-14T07:06Z","t2":"2021-07-14T07:11Z","h":3.526,"h2":3.632},{"t":"2021-07-14T07:11Z","t2":"2021-07-14T07:16Z","h":4.211,"h2":4.263},{"t":"2021-07-14T07:11Z","t2":"2021-07-14T07:16Z","h":4.105,"h2":4.158},{"t":"2021-07-14T07:11Z","t2":"2021-07-14T07:16Z","h":3.474,"h2":3.684},{"t":"2021-07-14T07:16Z","t2":"2021-07-14T07:21Z","h":4.316,"h2":4.368},{"t":"2021-07-14T07:16Z","t2":"2021-07-14T07:21Z","h":3.526,"h2":3.947},{"t":"2021-07-14T07:21Z","t2":"2021-07-14T07:26Z","h":3.579,"h2":3.842},{"t":"2021-07-14T07:26Z","t2":"2021-07-14T07:31Z","h":3.579,"h2":3.684},{"t":"2021-07-14T07:31Z","t2":"2021-07-14T07:36Z","h":4.053,"h2":4.158},{"t":"2021-07-14T07:31Z","t2":"2021-07-14T07:36Z","h":3.842,"h2":3.895},{"t":"2021-07-14T07:31Z","t2":"2021-07-14T07:36Z","h":3.579,"h2":3.737},{"t":"2021-07-14T07:36Z","t2":"2021-07-14T07:41Z","h":4,"h2":4.158},{"t":"2021-07-14T07:36Z","t2":"2021-07-14T07:41Z","h":3.789,"h2":3.895},{"t":"2021-07-14T07:36Z","t2":"2021-07-14T07:41Z","h":3.579,"h2":3.737},{"t":"2021-07-14T07:46Z","t2":"2021-07-14T07:51Z","h":4.316,"h2":4.368},{"t":"2021-07-14T07:46Z","t2":"2021-07-14T07:51Z","h":3.684,"h2":3.737},
{"t":"2021-07-14T08:01Z","t2":"2021-07-14T08:06Z","h":4.737,"h2":4.789},{"t":"2021-07-14T10:36Z","t2":"2021-07-14T10:41Z","h":5.526,"h2":5.579},
{"t":"2021-07-14T14:41Z","t2":"2021-07-14T14:46Z","h":3.684,"h2":3.737},{"t":"2021-07-14T14:51Z","t2":"2021-07-14T14:56Z","h":4.684,"h2":4.737},{"t":"2021-07-14T14:51Z","t2":"2021-07-14T14:56Z","h":4.579,"h2":4.632},{"t":"2021-07-14T14:56Z","t2":"2021-07-14T15:01Z","h":5.421,"h2":5.474},{"t":"2021-07-14T14:56Z","t2":"2021-07-14T15:01Z","h":5.211,"h2":5.263},{"t":"2021-07-14T14:56Z","t2":"2021-07-14T15:01Z","h":5,"h2":5.105},{"t":"2021-07-14T14:56Z","t2":"2021-07-14T15:01Z","h":4.526,"h2":4.579},{"t":"2021-07-14T14:56Z","t2":"2021-07-14T15:01Z","h":4.263,"h2":4.368},{"t":"2021-07-14T14:56Z","t2":"2021-07-14T15:01Z","h":3.579,"h2":3.947},
{"t":"2021-07-14T15:01Z","t2":"2021-07-14T15:06Z","h":5.158,"h2":5.263},{"t":"2021-07-14T15:01Z","t2":"2021-07-14T15:06Z","h":4.842,"h2":4.947},{"t":"2021-07-14T15:01Z","t2":"2021-07-14T15:06Z","h":4.684,"h2":4.737},{"t":"2021-07-14T15:01Z","t2":"2021-07-14T15:06Z","h":3.579,"h2":4.316},{"t":"2021-07-14T15:06Z","t2":"2021-07-14T15:11Z","h":5.053,"h2":5.105},{"t":"2021-07-14T15:06Z","t2":"2021-07-14T15:11Z","h":4.263,"h2":4.368},{"t":"2021-07-14T15:06Z","t2":"2021-07-14T15:11Z","h":3.684,"h2":4.211},{"t":"2021-07-14T15:06Z","t2":"2021-07-14T15:11Z","h":3.579,"h2":3.632},{"t":"2021-07-14T15:11Z","t2":"2021-07-14T15:16Z","h":5.211,"h2":5.263},{"t":"2021-07-14T15:11Z","t2":"2021-07-14T15:16Z","h":4.421,"h2":4.474},{"t":"2021-07-14T15:11Z","t2":"2021-07-14T15:16Z","h":4.158,"h2":4.211},{"t":"2021-07-14T15:11Z","t2":"2021-07-14T15:16Z","h":3.526,"h2":3.947},{"t":"2021-07-14T15:16Z","t2":"2021-07-14T15:21Z","h":5.737,"h2":5.789},{"t":"2021-07-14T15:16Z","t2":"2021-07-14T15:21Z","h":5.105,"h2":5.158},{"t":"2021-07-14T15:16Z","t2":"2021-07-14T15:21Z","h":4,"h2":4.053},{"t":"2021-07-14T15:16Z","t2":"2021-07-14T15:21Z","h":3.526,"h2":3.947},{"t":"2021-07-14T15:21Z","t2":"2021-07-14T15:26Z","h":4.263,"h2":4.421},{"t":"2021-07-14T15:21Z","t2":"2021-07-14T15:26Z","h":3.526,"h2":4.053},{"t":"2021-07-14T15:26Z","t2":"2021-07-14T15:31Z","h":5.263,"h2":5.316},{"t":"2021-07-14T15:26Z","t2":"2021-07-14T15:31Z","h":4.474,"h2":4.526},{"t":"2021-07-14T15:26Z","t2":"2021-07-14T15:31Z","h":4.158,"h2":4.368},{"t":"2021-07-14T15:26Z","t2":"2021-07-14T15:31Z","h":3.526,"h2":4.053},{"t":"2021-07-14T15:31Z","t2":"2021-07-14T15:36Z","h":3.526,"h2":4.053},{"t":"2021-07-14T15:36Z","t2":"2021-07-14T15:41Z","h":4.368,"h2":4.421},{"t":"2021-07-14T15:36Z","t2":"2021-07-14T15:41Z","h":4.263,"h2":4.316},{"t":"2021-07-14T15:36Z","t2":"2021-07-14T15:41Z","h":3.526,"h2":4.211},{"t":"2021-07-14T15:41Z","t2":"2021-07-14T15:46Z","h":5.105,"h2":5.158},{"t":"2021-07-14T15:41Z","t2":"2021-07-14T15:46Z","h":4.684,"h2":4.737},{"t":"2021-07-14T15:41Z","t2":"2021-07-14T15:46Z","h":4.526,"h2":4.632},{"t":"2021-07-14T15:41Z","t2":"2021-07-14T15:46Z","h":4.368,"h2":4.474},{"t":"2021-07-14T15:41Z","t2":"2021-07-14T15:46Z","h":3.579,"h2":4.316},{"t":"2021-07-14T15:46Z","t2":"2021-07-14T15:51Z","h":5.105,"h2":5.158},{"t":"2021-07-14T15:46Z","t2":"2021-07-14T15:51Z","h":4.632,"h2":4.789},{"t":"2021-07-14T15:46Z","t2":"2021-07-14T15:51Z","h":4.368,"h2":4.579},{"t":"2021-07-14T15:46Z","t2":"2021-07-14T15:51Z","h":3.579,"h2":4.316},{"t":"2021-07-14T15:51Z","t2":"2021-07-14T15:56Z","h":4.579,"h2":4.737},{"t":"2021-07-14T15:51Z","t2":"2021-07-14T15:56Z","h":3.579,"h2":4.526},{"t":"2021-07-14T15:56Z","t2":"2021-07-14T16:01Z","h":4.632,"h2":4.684},{"t":"2021-07-14T15:56Z","t2":"2021-07-14T16:01Z","h":4.211,"h2":4.316},{"t":"2021-07-14T15:56Z","t2":"2021-07-14T16:01Z","h":3.632,"h2":4.105},
{"t":"2021-07-14T16:01Z","t2":"2021-07-14T16:06Z","h":3.632,"h2":4.316},{"t":"2021-07-14T16:06Z","t2":"2021-07-14T16:11Z","h":5.105,"h2":5.211},{"t":"2021-07-14T16:06Z","t2":"2021-07-14T16:11Z","h":4.684,"h2":4.737},{"t":"2021-07-14T16:06Z","t2":"2021-07-14T16:11Z","h":4.368,"h2":4.421},{"t":"2021-07-14T16:06Z","t2":"2021-07-14T16:11Z","h":4.158,"h2":4.211},{"t":"2021-07-14T16:06Z","t2":"2021-07-14T16:11Z","h":3.684,"h2":4.105},{"t":"2021-07-14T16:11Z","t2":"2021-07-14T16:16Z","h":5.158,"h2":5.211},{"t":"2021-07-14T16:11Z","t2":"2021-07-14T16:16Z","h":3.737,"h2":4.105},{"t":"2021-07-14T16:16Z","t2":"2021-07-14T16:21Z","h":4.684,"h2":4.737},{"t":"2021-07-14T16:16Z","t2":"2021-07-14T16:21Z","h":3.684,"h2":4.158},{"t":"2021-07-14T16:21Z","t2":"2021-07-14T16:26Z","h":3.737,"h2":4.053},{"t":"2021-07-14T16:26Z","t2":"2021-07-14T16:31Z","h":3.737,"h2":3.947},{"t":"2021-07-14T16:31Z","t2":"2021-07-14T16:36Z","h":3.737,"h2":3.947},{"t":"2021-07-14T16:36Z","t2":"2021-07-14T16:41Z","h":3.737,"h2":4},{"t":"2021-07-14T16:41Z","t2":"2021-07-14T16:46Z","h":5.105,"h2":5.158},{"t":"2021-07-14T16:41Z","t2":"2021-07-14T16:46Z","h":3.789,"h2":4},{"t":"2021-07-14T16:46Z","t2":"2021-07-14T16:51Z","h":5.105,"h2":5.158},{"t":"2021-07-14T16:46Z","t2":"2021-07-14T16:51Z","h":4.737,"h2":4.789},{"t":"2021-07-14T16:46Z","t2":"2021-07-14T16:51Z","h":3.895,"h2":4.105},{"t":"2021-07-14T16:51Z","t2":"2021-07-14T16:56Z","h":3.895,"h2":4},{"t":"2021-07-14T16:56Z","t2":"2021-07-14T17:01Z","h":3.895,"h2":3.947},
{"t":"2021-07-14T17:01Z","t2":"2021-07-14T17:06Z","h":4.737,"h2":4.789},{"t":"2021-07-14T17:11Z","t2":"2021-07-14T17:16Z","h":3.684,"h2":3.842},{"t":"2021-07-14T17:16Z","t2":"2021-07-14T17:21Z","h":3.526,"h2":4.053},{"t":"2021-07-14T17:21Z","t2":"2021-07-14T17:26Z","h":5.632,"h2":5.684},{"t":"2021-07-14T17:21Z","t2":"2021-07-14T17:26Z","h":4.526,"h2":4.579},{"t":"2021-07-14T17:21Z","t2":"2021-07-14T17:26Z","h":4.158,"h2":4.211},{"t":"2021-07-14T17:21Z","t2":"2021-07-14T17:26Z","h":3.579,"h2":3.789},{"t":"2021-07-14T17:26Z","t2":"2021-07-14T17:31Z","h":6.053,"h2":6.105},{"t":"2021-07-14T17:26Z","t2":"2021-07-14T17:31Z","h":5.421,"h2":5.474},{"t":"2021-07-14T17:26Z","t2":"2021-07-14T17:31Z","h":5.105,"h2":5.158},{"t":"2021-07-14T17:26Z","t2":"2021-07-14T17:31Z","h":5,"h2":5.053},{"t":"2021-07-14T17:26Z","t2":"2021-07-14T17:31Z","h":4.526,"h2":4.684},{"t":"2021-07-14T17:26Z","t2":"2021-07-14T17:31Z","h":4.368,"h2":4.421},{"t":"2021-07-14T17:26Z","t2":"2021-07-14T17:31Z","h":3.947,"h2":4.158},{"t":"2021-07-14T17:26Z","t2":"2021-07-14T17:31Z","h":3.684,"h2":3.895},{"t":"2021-07-14T17:31Z","t2":"2021-07-14T17:36Z","h":5,"h2":5.053},{"t":"2021-07-14T17:31Z","t2":"2021-07-14T17:36Z","h":4.632,"h2":4.737},{"t":"2021-07-14T17:31Z","t2":"2021-07-14T17:36Z","h":4.263,"h2":4.421},{"t":"2021-07-14T17:31Z","t2":"2021-07-14T17:36Z","h":3.737,"h2":4.211},{"t":"2021-07-14T17:36Z","t2":"2021-07-14T17:41Z","h":3.737,"h2":3.947},{"t":"2021-07-14T17:41Z","t2":"2021-07-14T17:46Z","h":3.789,"h2":4.053},{"t":"2021-07-14T17:46Z","t2":"2021-07-14T17:51Z","h":3.789,"h2":3.895},{"t":"2021-07-14T17:51Z","t2":"2021-07-14T17:56Z","h":4.789,"h2":4.842},{"t":"2021-07-14T17:51Z","t2":"2021-07-14T17:56Z","h":4.263,"h2":4.316},{"t":"2021-07-14T17:51Z","t2":"2021-07-14T17:56Z","h":3.947,"h2":4},{"t":"2021-07-14T17:51Z","t2":"2021-07-14T17:56Z","h":3.684,"h2":3.842},{"t":"2021-07-14T17:56Z","t2":"2021-07-14T18:01Z","h":4.158,"h2":4.211},{"t":"2021-07-14T17:56Z","t2":"2021-07-14T18:01Z","h":3.737,"h2":3.789},
{"t":"2021-07-14T18:01Z","t2":"2021-07-14T18:06Z","h":3.737,"h2":3.789},{"t":"2021-07-14T18:06Z","t2":"2021-07-14T18:11Z","h":3.684,"h2":3.842},{"t":"2021-07-14T18:11Z","t2":"2021-07-14T18:16Z","h":3.737,"h2":3.789}
],
"line":[
{"s":"a","t":"2021-07-14T01:03:30Z","h":3.342},{"s":"a","t":"2021-07-14T01:08:30Z","h":3.395},{"s":"a","t":"2021-07-14T01:13:30Z","h":3.447},{"s":"a","t":"2021-07-14T01:18:30Z","h":3.447},{"s":"a","t":"2021-07-14T01:23:30Z","h":3.447},{"s":"a","t":"2021-07-14T01:28:30Z","h":3.447},{"s":"a","t":"2021-07-14T01:33:30Z","h":3.447},{"s":"a","t":"2021-07-14T01:38:30Z","h":3.447},{"s":"a","t":"2021-07-14T01:43:30Z","h":3.447},{"s":"a","t":"2021-07-14T01:48:30Z","h":3.447},{"s":"a","t":"2021-07-14T01:53:30Z","h":3.447},{"s":"a","t":"2021-07-14T01:58:30Z","h":3.447},
{"s":"a","t":"2021-07-14T02:03:30Z","h":3.447},{"s":"a","t":"2021-07-14T02:08:30Z","h":3.447},{"s":"a","t":"2021-07-14T02:13:30Z","h":3.447},{"s":"a","t":"2021-07-14T02:18:30Z","h":3.395},{"s":"a","t":"2021-07-14T02:23:30Z","h":3.395},{"s":"a","t":"2021-07-14T02:28:30Z","h":3.342},{"s":"a","t":"2021-07-14T02:33:30Z","h":3.395},{"s":"a","t":"2021-07-14T02:38:30Z","h":3.395},{"s":"a","t":"2021-07-14T02:43:30Z","h":3.342},{"s":"a","t":"2021-07-14T02:48:30Z","h":3.395},{"s":"a","t":"2021-07-14T02:53:30Z","h":3.342},{"s":"a","t":"2021-07-14T02:58:30Z","h":3.289},
{"s":"a","t":"2021-07-14T03:03:30Z","h":3.289},{"s":"a","t":"2021-07-14T03:08:30Z","h":3.342},{"s":"a","t":"2021-07-14T03:13:30Z","h":3.289},{"s":"a","t":"2021-07-14T03:18:30Z","h":3.342},{"s":"a","t":"2021-07-14T03:23:30Z","h":3.342},{"s":"a","t":"2021-07-14T03:28:30Z","h":3.342},{"s":"a","t":"2021-07-14T03:33:30Z","h":3.395},{"s":"a","t":"2021-07-14T03:38:30Z","h":3.342},{"s":"a","t":"2021-07-14T03:43:30Z","h":3.395},{"s":"a","t":"2021-07-14T03:48:30Z","h":3.447},{"s":"a","t":"2021-07-14T03:53:30Z","h":3.447},{"s":"a","t":"2021-07-14T03:58:30Z","h":3.447},
{"s":"a","t":"2021-07-14T04:03:30Z","h":3.447},{"s":"a","t":"2021-07-14T04:08:30Z","h":3.5},{"s":"a","t":"2021-07-14T04:13:30Z","h":3.553},{"s":"a","t":"2021-07-14T04:18:30Z","h":3.553},{"s":"a","t":"2021-07-14T04:23:30Z","h":3.658},{"s":"a","t":"2021-07-14T04:28:30Z","h":3.605},{"s":"a","t":"2021-07-14T04:33:30Z","h":3.605},{"s":"a","t":"2021-07-14T04:38:30Z","h":3.658},{"s":"a","t":"2021-07-14T04:43:30Z","h":3.553},{"s":"a","t":"2021-07-14T04:48:30Z","h":3.658},{"s":"a","t":"2021-07-14T04:53:30Z","h":3.658},{"s":"a","t":"2021-07-14T04:58:30Z","h":3.658},
{"s":"a","t":"2021-07-14T05:03:30Z","h":3.605},{"s":"a","t":"2021-07-14T05:08:30Z","h":3.605},{"s":"a","t":"2021-07-14T05:13:30Z","h":3.658},{"s":"a","t":"2021-07-14T05:18:30Z","h":3.658},{"s":"a","t":"2021-07-14T05:23:30Z","h":3.658},{"s":"a","t":"2021-07-14T05:28:30Z","h":3.658},{"s":"a","t":"2021-07-14T05:33:30Z","h":3.605},{"s":"a","t":"2021-07-14T05:38:30Z","h":3.605},{"s":"a","t":"2021-07-14T05:43:30Z","h":3.605},{"s":"a","t":"2021-07-14T05:48:30Z","h":3.5},{"s":"a","t":"2021-07-14T05:53:30Z","h":3.5},{"s":"a","t":"2021-07-14T05:58:30Z","h":3.5},
{"s":"a","t":"2021-07-14T06:03:30Z","h":3.5},{"s":"a","t":"2021-07-14T06:08:30Z","h":3.553},{"s":"a","t":"2021-07-14T06:13:30Z","h":3.553},{"s":"a","t":"2021-07-14T06:18:30Z","h":3.605},{"s":"a","t":"2021-07-14T06:23:30Z","h":3.605},{"s":"a","t":"2021-07-14T06:28:30Z","h":3.553},{"s":"a","t":"2021-07-14T06:33:30Z","h":3.553},{"s":"a","t":"2021-07-14T06:38:30Z","h":3.605},{"s":"a","t":"2021-07-14T06:43:30Z","h":3.658},{"s":"a","t":"2021-07-14T06:48:30Z","h":3.605},{"s":"a","t":"2021-07-14T06:53:30Z","h":3.605},{"s":"a","t":"2021-07-14T06:58:30Z","h":3.605},
{"s":"a","t":"2021-07-14T07:03:30Z","h":3.5},{"s":"a","t":"2021-07-14T07:08:30Z","h":3.5},{"s":"a","t":"2021-07-14T07:13:30Z","h":3.447},{"s":"a","t":"2021-07-14T07:18:30Z","h":3.5},{"s":"a","t":"2021-07-14T07:23:30Z","h":3.553},{"s":"a","t":"2021-07-14T07:28:30Z","h":3.553},{"s":"a","t":"2021-07-14T07:33:30Z","h":3.553},{"s":"a","t":"2021-07-14T07:38:30Z","h":3.553},{"s":"a","t":"2021-07-14T07:43:30Z","h":3.605},{"s":"a","t":"2021-07-14T07:48:30Z","h":3.658},{"s":"a","t":"2021-07-14T07:53:30Z","h":3.711},{"s":"a","t":"2021-07-14T07:58:30Z","h":3.711},
{"s":"a","t":"2021-07-14T08:03:30Z","h":3.711},{"s":"a","t":"2021-07-14T08:08:30Z","h":3.711},{"s":"a","t":"2021-07-14T08:13:30Z","h":3.711},{"s":"a","t":"2021-07-14T08:18:30Z","h":3.711},{"s":"a","t":"2021-07-14T08:23:30Z","h":3.711},{"s":"a","t":"2021-07-14T08:28:30Z","h":3.658},{"s":"a","t":"2021-07-14T08:33:30Z","h":3.658},{"s":"a","t":"2021-07-14T08:38:30Z","h":3.658},{"s":"a","t":"2021-07-14T08:43:30Z","h":3.605},{"s":"a","t":"2021-07-14T08:48:30Z","h":3.658},{"s":"a","t":"2021-07-14T08:53:30Z","h":3.711},{"s":"a","t":"2021-07-14T08:58:30Z","h":3.763},
{"s":"a","t":"2021-07-14T09:03:30Z","h":3.763},{"s":"a","t":"2021-07-14T09:08:30Z","h":3.711},{"s":"a","t":"2021-07-14T09:13:30Z","h":3.763},{"s":"a","t":"2021-07-14T09:18:30Z","h":3.711},{"s":"a","t":"2021-07-14T09:23:30Z","h":3.711},{"s":"a","t":"2021-07-14T09:28:30Z","h":3.658},{"s":"a","t":"2021-07-14T09:33:30Z","h":3.711},{"s":"a","t":"2021-07-14T09:38:30Z","h":3.763},{"s":"a","t":"2021-07-14T09:43:30Z","h":3.816},{"s":"a","t":"2021-07-14T09:48:30Z","h":3.816},{"s":"a","t":"2021-07-14T09:53:30Z","h":3.816},{"s":"a","t":"2021-07-14T09:58:30Z","h":3.816},
{"s":"a","t":"2021-07-14T10:03:30Z","h":3.816},{"s":"a","t":"2021-07-14T10:08:30Z","h":3.816},{"s":"a","t":"2021-07-14T10:13:30Z","h":3.763},{"s":"a","t":"2021-07-14T10:18:30Z","h":3.816},{"s":"a","t":"2021-07-14T10:23:30Z","h":3.816},{"s":"a","t":"2021-07-14T10:28:30Z","h":3.816},{"s":"a","t":"2021-07-14T10:33:30Z","h":3.868},{"s":"a","t":"2021-07-14T10:38:30Z","h":3.868},{"s":"a","t":"2021-07-14T10:43:30Z","h":3.816},{"s":"a","t":"2021-07-14T10:48:30Z","h":3.816},{"s":"a","t":"2021-07-14T10:53:30Z","h":3.816},{"s":"a","t":"2021-07-14T10:58:30Z","h":3.816},
{"s":"a","t":"2021-07-14T11:03:30Z","h":3.763},{"s":"a","t":"2021-07-14T11:08:30Z","h":3.882},
{"s":"b","t":"2021-07-14T12:38:30Z","h":3.947},{"s":"b","t":"2021-07-14T12:43:30Z","h":3.868},{"s":"b","t":"2021-07-14T12:48:30Z","h":3.868},{"s":"b","t":"2021-07-14T12:53:30Z","h":3.816},{"s":"b","t":"2021-07-14T12:58:30Z","h":3.868},
{"s":"b","t":"2021-07-14T13:03:30Z","h":3.816},{"s":"b","t":"2021-07-14T13:08:30Z","h":3.868},{"s":"b","t":"2021-07-14T13:13:30Z","h":3.921},{"s":"b","t":"2021-07-14T13:18:30Z","h":3.816},{"s":"b","t":"2021-07-14T13:23:30Z","h":3.763},{"s":"b","t":"2021-07-14T13:28:30Z","h":3.711},{"s":"b","t":"2021-07-14T13:33:30Z","h":3.763},{"s":"b","t":"2021-07-14T13:38:30Z","h":3.816},{"s":"b","t":"2021-07-14T13:43:30Z","h":3.763},{"s":"b","t":"2021-07-14T13:48:30Z","h":3.763},{"s":"b","t":"2021-07-14T13:53:30Z","h":3.763},{"s":"b","t":"2021-07-14T13:58:30Z","h":3.711},
{"s":"b","t":"2021-07-14T14:03:30Z","h":3.816},{"s":"b","t":"2021-07-14T14:08:30Z","h":3.816},{"s":"b","t":"2021-07-14T14:13:30Z","h":3.763},{"s":"b","t":"2021-07-14T14:18:30Z","h":3.763},{"s":"b","t":"2021-07-14T14:23:30Z","h":3.711},{"s":"b","t":"2021-07-14T14:28:30Z","h":3.658},{"s":"b","t":"2021-07-14T14:33:30Z","h":3.658},{"s":"b","t":"2021-07-14T14:38:30Z","h":3.711},{"s":"b","t":"2021-07-14T14:43:30Z","h":3.658},{"s":"b","t":"2021-07-14T14:48:30Z","h":3.658},{"s":"b","t":"2021-07-14T14:53:30Z","h":3.658},{"s":"b","t":"2021-07-14T14:58:30Z","h":3.553},
{"s":"b","t":"2021-07-14T15:03:30Z","h":3.553},{"s":"b","t":"2021-07-14T15:08:30Z","h":3.553},{"s":"b","t":"2021-07-14T15:13:30Z","h":3.5},{"s":"b","t":"2021-07-14T15:18:30Z","h":3.5},{"s":"b","t":"2021-07-14T15:23:30Z","h":3.5},{"s":"b","t":"2021-07-14T15:28:30Z","h":3.5},{"s":"b","t":"2021-07-14T15:33:30Z","h":3.5},{"s":"b","t":"2021-07-14T15:38:30Z","h":3.5},{"s":"b","t":"2021-07-14T15:43:30Z","h":3.553},{"s":"b","t":"2021-07-14T15:48:30Z","h":3.553},{"s":"b","t":"2021-07-14T15:53:30Z","h":3.553},{"s":"b","t":"2021-07-14T15:58:30Z","h":3.605},
{"s":"b","t":"2021-07-14T16:03:30Z","h":3.605},{"s":"b","t":"2021-07-14T16:08:30Z","h":3.658},{"s":"b","t":"2021-07-14T16:13:30Z","h":3.711},{"s":"b","t":"2021-07-14T16:18:30Z","h":3.658},{"s":"b","t":"2021-07-14T16:23:30Z","h":3.711},{"s":"b","t":"2021-07-14T16:28:30Z","h":3.711},{"s":"b","t":"2021-07-14T16:33:30Z","h":3.711},{"s":"b","t":"2021-07-14T16:38:30Z","h":3.711},{"s":"b","t":"2021-07-14T16:43:30Z","h":3.816},{"s":"b","t":"2021-07-14T16:48:30Z","h":3.921},{"s":"b","t":"2021-07-14T16:53:30Z","h":3.868},{"s":"b","t":"2021-07-14T16:58:30Z","h":3.868},
{"s":"b","t":"2021-07-14T17:03:30Z","h":3.868},{"s":"b","t":"2021-07-14T17:08:30Z","h":3.816},{"s":"b","t":"2021-07-14T17:13:30Z","h":3.763},{"s":"b","t":"2021-07-14T17:18:30Z","h":3.5},{"s":"b","t":"2021-07-14T17:23:30Z","h":3.553},{"s":"b","t":"2021-07-14T17:28:30Z","h":3.711},{"s":"b","t":"2021-07-14T17:33:30Z","h":3.711},{"s":"b","t":"2021-07-14T17:38:30Z","h":3.711},{"s":"b","t":"2021-07-14T17:43:30Z","h":3.763},{"s":"b","t":"2021-07-14T17:48:30Z","h":3.763},{"s":"b","t":"2021-07-14T17:53:30Z","h":3.658},{"s":"b","t":"2021-07-14T17:58:30Z","h":3.711},
{"s":"b","t":"2021-07-14T18:03:30Z","h":3.711},{"s":"b","t":"2021-07-14T18:08:30Z","h":3.658},{"s":"b","t":"2021-07-14T18:13:30Z","h":3.711},{"s":"b","t":"2021-07-14T18:18:30Z","h":3.711},{"s":"b","t":"2021-07-14T18:23:30Z","h":3.763},{"s":"b","t":"2021-07-14T18:28:30Z","h":3.763},{"s":"b","t":"2021-07-14T18:33:30Z","h":3.763}
],
"frame":[{"t":"2021-07-14T18:31Z","h":7}],
"labelsTop":[{"t":"2021-07-14T02:50Z","h":8.18,"label":"observation"},{"t":"2021-07-14T02:50Z","h":7.45,"label":"(ground truth)"}],
"dateLabel":[{"t":"2021-07-14T09:46Z","h":7.117,"label":"14.07.2021"}],
"labelsBottom":[{"t":"2021-07-14T02:27Z","h":7.23,"label":"prediction"}]
},
"vconcat":[
{"width":2084,"height":885.7,
"layer":[
{"data":{"name":"cols"},
"mark":{"type":"rect","color":"#440154","stroke":"#440154","strokeWidth":1},
"encoding":{"x":{"field":"t","type":"temporal","title":null,"scale":{"type":"utc","domain":["2021-07-14T01:01:00Z","2021-07-14T18:31:00Z"]},"axis":{"format":"%H:%M","values":["2021-07-14T02:00:00Z","2021-07-14T04:00:00Z","2021-07-14T06:00:00Z","2021-07-14T08:00:00Z","2021-07-14T10:00:00Z","2021-07-14T12:00:00Z","2021-07-14T14:00:00Z","2021-07-14T16:00:00Z","2021-07-14T18:00:00Z"],"labelAngle":-30,"labelAlign":"right","labelBaseline":"middle","labelPadding":17,"labelOffset":-12,"labelOverlap":false,"labelFlush":false}},"x2":{"field":"t2"},"y":{"field":"h","type":"quantitative","title":"Height (km)","scale":{"domain":[0,7],"nice":false},"axis":{"values":[0,1,2,3,4,5,6,7],"format":"d","labelPadding":10,"titlePadding":10}},"y2":{"field":"h2"}}},
{"data":{"name":"obs"},
"mark":{"type":"rect","color":"#fde725","stroke":"#fde725","strokeWidth":1},
"encoding":{"x":{"field":"t","type":"temporal"},"x2":{"field":"t2"},"y":{"field":"h","type":"quantitative"},"y2":{"field":"h2"}}},
{"data":{"name":"line"},
"mark":{"type":"line","color":"black","strokeWidth":13,"strokeCap":"square","strokeJoin":"round","clip":true},
"encoding":{"x":{"field":"t","type":"temporal"},"y":{"field":"h","type":"quantitative"},"detail":{"field":"s"}}},
{"data":{"name":"frame"},
"mark":{"type":"rule","color":"black","strokeWidth":2},
"encoding":{"y":{"field":"h","type":"quantitative"}}},
{"data":{"name":"frame"},
"mark":{"type":"rule","color":"black","strokeWidth":2},
"encoding":{"x":{"field":"t","type":"temporal"}}},
{"data":{"name":"labelsTop"},
"mark":{"type":"text","font":"Lato","fontWeight":900,"fontSize":64,"color":"black","baseline":"alphabetic","align":"center"},
"encoding":{"x":{"field":"t","type":"temporal"},"y":{"field":"h","type":"quantitative"},"text":{"field":"label"}}},
{"data":{"name":"dateLabel"},
"mark":{"type":"text","font":"DejaVu Sans","fontSize":51,"color":"black","baseline":"alphabetic","align":"center"},
"encoding":{"x":{"field":"t","type":"temporal"},"y":{"field":"h","type":"quantitative"},"text":{"field":"label"}}}
]},
{"width":2084,"height":885.7,
"layer":[
{"data":{"name":"cols"},
"mark":{"type":"rect","color":"#440154","stroke":"#440154","strokeWidth":1},
"encoding":{"x":{"field":"t","type":"temporal","title":"Time (UTC)","scale":{"type":"utc","domain":["2021-07-14T01:01:00Z","2021-07-14T18:31:00Z"]},"axis":{"format":"%H:%M","values":["2021-07-14T02:00:00Z","2021-07-14T04:00:00Z","2021-07-14T06:00:00Z","2021-07-14T08:00:00Z","2021-07-14T10:00:00Z","2021-07-14T12:00:00Z","2021-07-14T14:00:00Z","2021-07-14T16:00:00Z","2021-07-14T18:00:00Z"],"labelAngle":-30,"labelAlign":"right","labelBaseline":"middle","labelPadding":17,"labelOffset":-12,"labelOverlap":false,"labelFlush":false,"titleX":1023,"titleY":170,"titleBaseline":"alphabetic"}},"x2":{"field":"t2"},"y":{"field":"h","type":"quantitative","title":"Height (km)","scale":{"domain":[0,7],"nice":false},"axis":{"values":[0,1,2,3,4,5,6,7],"format":"d","labelPadding":10,"titlePadding":10}},"y2":{"field":"h2"}}},
{"data":{"name":"pred"},
"mark":{"type":"rect","color":"#fde725","stroke":"#fde725","strokeWidth":1},
"encoding":{"x":{"field":"t","type":"temporal"},"x2":{"field":"t2"},"y":{"field":"h","type":"quantitative"},"y2":{"field":"h2"}}},
{"data":{"name":"line"},
"mark":{"type":"line","color":"black","strokeWidth":13,"strokeCap":"square","strokeJoin":"round","clip":true},
"encoding":{"x":{"field":"t","type":"temporal"},"y":{"field":"h","type":"quantitative"},"detail":{"field":"s"}}},
{"data":{"name":"frame"},
"mark":{"type":"rule","color":"black","strokeWidth":2},
"encoding":{"y":{"field":"h","type":"quantitative"}}},
{"data":{"name":"frame"},
"mark":{"type":"rule","color":"black","strokeWidth":2},
"encoding":{"x":{"field":"t","type":"temporal"}}},
{"data":{"name":"labelsBottom"},
"mark":{"type":"text","font":"Lato","fontWeight":900,"fontSize":64,"color":"black","baseline":"alphabetic","align":"center"},
"encoding":{"x":{"field":"t","type":"temporal"},"y":{"field":"h","type":"quantitative"},"text":{"field":"label"}}}
]}
],
"spacing":220.5,
"bounds":"flush"
}
